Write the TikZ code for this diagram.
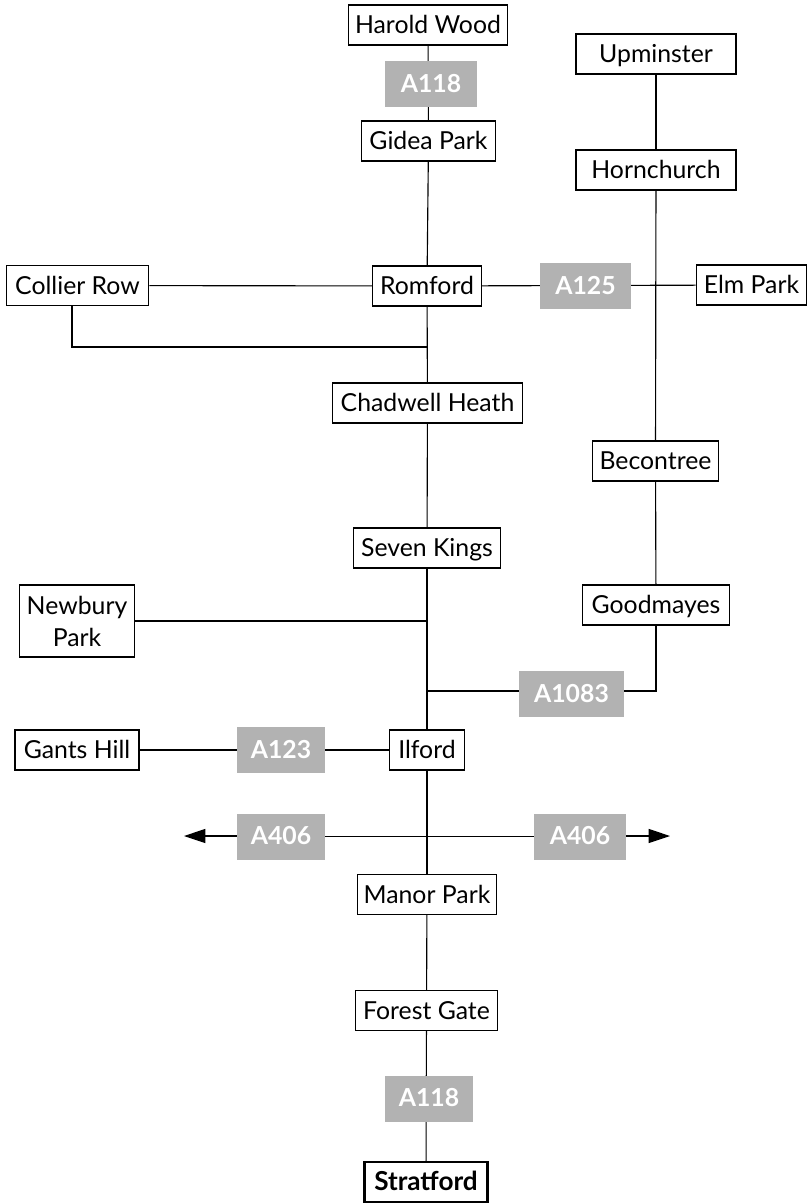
\documentclass[tikz,border=0pt]{standalone}
\usepackage{fontspec}
\setmainfont{Lato}
\usetikzlibrary{arrows.meta,backgrounds}

\tikzset{
  place/.style={draw,fill=white,line width=0.85pt,inner sep=0pt,minimum height=30pt,text height=14pt,text depth=1pt,font=\fontsize{18.6}{21}\selectfont,align=center},
  road/.style={fill=black!30,text=white,inner sep=0pt,minimum height=34.5pt,text height=13pt,text depth=1pt,font=\fontsize{18.6}{21}\selectfont\bfseries},
  link/.style={line width=0.85pt},
  wayout/.style={link,-{Triangle[length=16pt,width=10.5pt]}}
}

\begin{document}
\begin{tikzpicture}[x=0.75pt,y=-0.75pt]
   \useasboundingbox (0,0) rectangle (808,1203);
   % centre road
   \node[place,minimum width=119pt] (harold) at (428,25) {Harold Wood};
   \node[road,minimum width=69pt] (aOneEighteenTop) at (431,84) {A118};
   \node[place,minimum width=100pt] (gidea) at (428.5,141) {Gidea Park};
   \node[place,minimum width=82pt] (romford) at (427,286) {Romford};
   \node[place,minimum width=142pt] (chadwell) at (427.5,403) {Chadwell Heath};
   \node[place,minimum width=110pt] (seven) at (427,548) {Seven Kings};
   \node[place,minimum width=56pt] (ilford) at (427,750) {Ilford};
   \node[place,minimum width=104pt] (manor) at (427,894.5) {Manor Park};
   \node[place,minimum width=107pt] (forest) at (426.5,1010.5) {Forest Gate};
   \node[road,minimum width=66pt] (aOneEighteenLow) at (429,1098.5) {A118};
   \node[place,minimum width=92pt,line width=1.8pt,font=\fontsize{19.6}{21}\selectfont\bfseries] (stratford) at (426,1182) {Stratford};
   % right road
   \node[place,minimum width=120pt] (upminster) at (656,54) {Upminster};
   \node[place,minimum width=120pt] (hornchurch) at (656,170) {Hornchurch};
   \node[place,minimum width=95pt] (becontree) at (655.5,461) {Becontree};
   \node[place,minimum width=110pt] (goodmayes) at (656,605) {Goodmayes};
   % branches
   \node[place,minimum width=107pt] (collier) at (77.5,285.5) {Collier Row};
   \node[road,minimum width=68pt] (aOneTwoFive) at (585.5,286) {A125};
   \node[place,minimum width=83pt] (elm) at (751.5,285) {Elm Park};
   \node[place,minimum width=86pt,minimum height=54pt,text height=,text depth=,font=\fontsize{18.6}{24}\selectfont] (newbury) at (77,621) {Newbury\\Park};
   \node[road,minimum width=79pt] (aTenEightyThree) at (571.5,694) {A1083};
   \node[place,minimum width=93pt] (gants) at (77,750) {Gants Hill};
   \node[road,minimum width=66pt] (aOneTwoThree) at (281,750) {A123};
   \node[road,minimum width=66pt] (aFourOSixW) at (281,836.5) {A406};
   \node[road,minimum width=69pt] (aFourOSixE) at (580,836.5) {A406};
   \coordinate (collierJoin) at (427,347);
   \coordinate (collierTurn) at (72,347);
   \coordinate (newburyJoin) at (427,621);
   \coordinate (aTenJoin) at (427,691);
   \coordinate (goodTurn) at (656,691);
   \coordinate (westEnd) at (184,836);
   \coordinate (eastEnd) at (670,836);
   \begin{scope}[on background layer]
    \draw[link] (harold) -- (gidea);
    \draw[link] (gidea) -- (romford);
    \draw[link] (romford) -- (chadwell);
    \draw[link] (chadwell) -- (seven);
    \draw[link] (seven) -- (ilford);
    \draw[link] (ilford) -- (manor);
    \draw[link] (manor) -- (forest);
    \draw[link] (forest) -- (stratford);
    \draw[link] (upminster) -- (hornchurch);
    \draw[link] (hornchurch) -- (becontree);
    \draw[link] (becontree) -- (goodmayes);
    \draw[link] (collier) -- (romford);
    \draw[link] (romford) -- (elm);
    \draw[link] (collier.south -| collierTurn) -- (collierTurn) -- (collierJoin);
    \draw[link] (newbury) -- (newburyJoin);
    \draw[link] (aTenJoin) -- (goodTurn) -- (goodmayes);
    \draw[link] (gants) -- (ilford);
    \draw[link] (aFourOSixW) -- (aFourOSixE);
    \draw[wayout] (aFourOSixW.west |- westEnd) -- (westEnd);
    \draw[wayout] (aFourOSixE.east |- eastEnd) -- (eastEnd);
   \end{scope}
\end{tikzpicture}
\end{document}
